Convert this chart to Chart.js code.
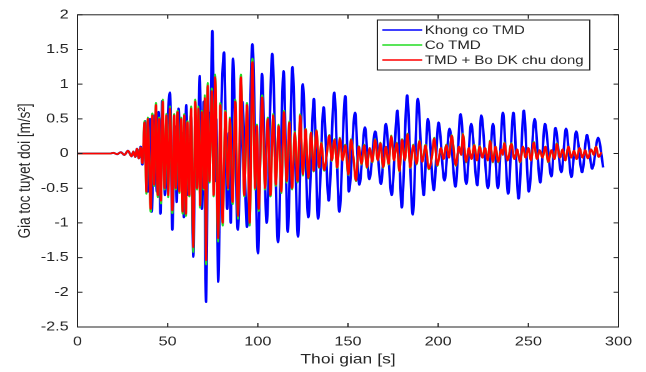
<!DOCTYPE html>
<html>
<head>
<meta charset="utf-8">
<script src="https://cdn.jsdelivr.net/npm/chart.js@4/dist/chart.umd.min.js"></script>
<style>
  html, body { margin: 0; padding: 0; background: #fff; overflow: hidden; }
  canvas { display: block; }
</style>
</head>
<body>
<!-- the source figure is stretched sideways, so the canvas is drawn narrow and widened by CSS -->
<canvas id="chart" width="517" height="372" style="width:646px;height:372px"></canvas>
<script>
const xTicks = [0, 50, 100, 150, 200, 250, 300];
const yTicks = [-2.5, -2, -1.5, -1, -0.5, 0, 0.5, 1, 1.5, 2];
const labels = ['Khong co TMD', 'Co TMD', 'TMD + Bo DK chu dong'];

// Khong co TMD (peaks / troughs)
const blueT = [0,18,20,22,24,26,28,30,31,32,33,34,35,36,
  37.5,39,40.2,41.2,42.5,44,45,46,47,48.5,
  50,51.3,52.6,54,55,56,57.5,58,59,60.3,
  61.5,63,64.2,65.5,66.5,67.8,69,70,71.3,72.5,
  73.2,74.8,76.2,77,78,79.5,81.3,83,84,85,
  86.2,88.9,91.4,94,97,100.1,102.3,104.9,108,111.2,
  114.3,116.6,119.2,122.3,124.9,128,131.1,133.4,136.5,139.3,
  142.4,145.2,148.5,150.5,153.9,156.3,159.4,161.8,165.1,168.3,
  171,174.2,177.4,179.8,182.8,185.9,188.7,192,194.3,197.6,
  200.2,203.5,206.3,209.6,212.4,215.6,218.3,221.7,223.9,227.6,
  230.4,233.1,235.9,238.8,241.7,244.6,247.5,250.3,253.5,256.6,
  259.2,262.8,265,268.3,270.9,273.9,276.5,279.8,282.5,285.4,
  288.7,291.5];
const blueV = [0,0,0.01,-0.01,0.02,-0.02,0.04,-0.04,0.03,-0.05,0.07,-0.07,0.1,-0.16,
  0.47,-0.55,0.5,-0.84,0.55,-0.55,0.6,-0.87,0.76,-0.6,
  0.5,0.88,-1.1,0.4,-0.7,0.65,-0.3,0.3,-0.92,0.7,
  -0.6,0.55,-1.49,0.5,-0.3,1.12,-0.8,0.75,-2.14,0.6,
  -0.2,1.77,-0.4,0.5,-1.85,0.4,1.46,-0.8,0.3,-1.0,
  1.37,-1.1,0.75,-1.06,1.58,-1.44,1.15,-1.0,1.44,-1.28,
  1.19,-1.13,1.25,-1.2,1.0,-0.92,0.79,-0.94,0.67,-0.68,
  0.88,-0.84,0.83,-0.55,0.59,-0.45,0.38,-0.37,0.32,-0.44,
  0.43,-0.6,0.62,-0.78,0.84,-0.88,0.79,-0.6,0.5,-0.53,
  0.45,-0.39,0.36,-0.48,0.57,-0.44,0.43,-0.46,0.55,-0.5,
  0.43,-0.5,0.59,-0.58,0.59,-0.65,0.62,-0.55,0.5,-0.42,
  0.43,-0.33,0.37,-0.27,0.36,-0.34,0.32,-0.27,0.27,-0.22,
  0.23,-0.2];

// Co TMD and TMD + Bo DK chu dong share the same time points
const redT = [0,18,20,22,24,26,28,30,31,32,
  33,34,35,36,37.2,38.2,39,40.6,41.5,42.5,
  43.5,44.5,45.3,46.3,47.3,48.3,49.3,50.3,51.3,52.6,
  53.6,54.5,55.5,56.5,57.5,58.3,59.2,60.1,61,62,
  63,64.2,65.3,66.3,67,68,69,70,70.6,71.3,
  72.2,73.2,74.5,75.5,76.3,78,79.2,80.5,82,83.5,
  84.5,86,87.5,89,90.6,92.5,94,95.5,97,98.5,
  99.5,100.5,102.4,104,105.5,107,108.5,110,111.5,113,
  114.5,116,117.5,119,120.5,122,123.5,125,126.5,128,
  129.5,131,132.5,134,135.2,136.8,138.2,139.6,141,142.5,
  144,145.5,147,148.5,150.2,151.7,153,154.4,156,157.5,
  159,160.5,162,163.5,165,166.5,168,169.5,171,172.5,
  174,175.5,177,178.5,180,181.5,183,184.5,186.2,188,
  189.6,191.2,193,194.8,196.5,197.8,199.5,201.5,203,204.5,
  206,207.5,209.8,211.5,212.8,213.7,215.5,217,218.5,220,
  221.5,223,224.5,226,227.5,228.8,230.3,231.8,233.3,235,
  235.8,236.7,238.5,240.6,242.2,243.8,245.4,247,248.5,250,
  251.5,253,254.8,256.3,257.8,259.5,261,262.8,264.5,265.8,
  267.5,269,270.5,272.2,273.8,275.3,276.8,278.4,280,281.5,
  283,284.8,286.3,287.5,289,290.5];
const redV = [0,0,0.01,-0.01,0.02,-0.02,0.04,-0.04,0.03,-0.05,
  0.07,-0.07,0.09,-0.14,0.45,-0.55,0.5,-0.8,0.55,-0.45,
  0.7,-0.6,0.5,-0.68,0.75,-0.5,0.55,-0.6,0.65,-0.82,
  0.55,-0.5,0.6,-0.55,0.5,-0.84,0.55,-0.87,0.45,-0.6,
  0.65,-1.35,0.75,-0.5,0.65,-0.75,0.6,-0.5,0.8,-1.54,
  0.98,-0.4,0.9,-0.6,1.1,-1.22,0.7,-1.0,0.6,-0.5,
  0.5,-0.7,0.75,-0.9,1.1,-0.6,0.7,-1.0,1.32,-0.5,
  0.4,-0.8,0.81,-0.5,0.5,-0.6,0.55,-0.45,0.4,-0.55,
  0.6,-0.4,0.45,-0.5,0.3,-0.4,0.55,-0.3,0.35,-0.35,
  0.3,-0.25,0.33,-0.2,0.15,-0.24,-0.02,0.26,-0.1,0.2,
  -0.2,0.22,-0.1,0.12,-0.3,0.2,-0.05,-0.39,0.1,-0.15,
  0.12,-0.2,0.08,-0.12,0.2,-0.1,0.15,-0.2,0.1,-0.15,
  0.25,-0.1,0.15,-0.25,0.2,-0.1,0.28,-0.2,0.12,-0.15,
  0.18,-0.12,0.12,-0.22,-0.05,0.22,-0.17,0.08,-0.08,0.12,
  -0.06,0.26,-0.17,0.1,-0.02,0.28,-0.12,0.08,-0.08,0.12,
  -0.1,0.1,-0.06,0.08,-0.1,0.18,-0.12,0.1,-0.12,0.06,
  -0.02,0.15,-0.1,0.14,-0.08,0.06,-0.12,0.1,-0.06,0.08,
  -0.1,0.16,-0.08,0.05,-0.06,0.1,-0.12,0.05,-0.08,0.14,
  -0.06,0.06,-0.1,0.1,-0.06,0.04,-0.08,0.08,-0.06,0.05,
  -0.07,0.06,-0.02,0.1,-0.05,0.02];
const greenV = [0,0,0.01,-0.01,0.02,-0.02,0.04,-0.04,0.03,-0.05,
  0.07,-0.07,0.09,-0.14,0.47,-0.58,0.52,-0.84,0.58,-0.47,
  0.73,-0.63,0.52,-0.72,0.78,-0.52,0.57,-0.63,0.68,-0.86,
  0.57,-0.52,0.62,-0.57,0.52,-0.87,0.57,-0.9,0.47,-0.62,
  0.68,-1.42,0.78,-0.52,0.68,-0.78,0.62,-0.52,0.84,-1.6,
  1.02,-0.42,0.94,-0.62,1.14,-1.27,0.73,-1.04,0.62,-0.52,
  0.52,-0.73,0.78,-0.94,1.14,-0.62,0.73,-1.04,1.37,-0.52,
  0.42,-0.83,0.84,-0.52,0.52,-0.62,0.57,-0.47,0.42,-0.57,
  0.62,-0.42,0.47,-0.52,0.32,-0.42,0.57,-0.32,0.36,-0.36,
  0.31,-0.26,0.34,-0.21,0.16,-0.25,-0.02,0.27,-0.11,0.21,
  -0.21,0.23,-0.1,0.13,-0.31,0.21,-0.05,-0.4,0.11,-0.16,
  0.13,-0.21,0.08,-0.13,0.21,-0.1,0.16,-0.21,0.1,-0.16,
  0.26,-0.1,0.16,-0.26,0.21,-0.1,0.29,-0.21,0.13,-0.16,
  0.19,-0.12,0.13,-0.23,-0.05,0.23,-0.18,0.08,-0.08,0.13,
  -0.06,0.27,-0.18,0.1,-0.02,0.29,-0.13,0.08,-0.08,0.13,
  -0.1,0.11,-0.06,0.08,-0.1,0.19,-0.13,0.1,-0.13,0.06,
  -0.02,0.16,-0.1,0.15,-0.08,0.06,-0.13,0.1,-0.06,0.08,
  -0.1,0.17,-0.08,0.05,-0.06,0.1,-0.13,0.05,-0.08,0.15,
  -0.06,0.06,-0.1,0.1,-0.06,0.04,-0.08,0.08,-0.06,0.05,
  -0.07,0.06,-0.02,0.1,-0.05,0.02];

const FONT = '"Liberation Sans", Arial, sans-serif';
const TEXT = '#262626';

function pts(ts, vs) {
  return ts.map((t, i) => ({ x: t, y: vs[i] }));
}

// matlab style box, inward ticks on all four sides, legend inside the axes
const boxPlugin = {
  id: 'box',
  afterDatasetsDraw(chart) {
    const { ctx, chartArea: a, scales: { x, y } } = chart;
    ctx.save();
    ctx.strokeStyle = '#222';
    ctx.lineWidth = 1;
    ctx.beginPath();
    xTicks.forEach(v => {
      const px = x.getPixelForValue(v);
      ctx.moveTo(px, a.bottom); ctx.lineTo(px, a.bottom - 4);
      ctx.moveTo(px, a.top); ctx.lineTo(px, a.top + 4);
    });
    yTicks.forEach(v => {
      const py = y.getPixelForValue(v);
      ctx.moveTo(a.left, py); ctx.lineTo(a.left + 4, py);
      ctx.moveTo(a.right, py); ctx.lineTo(a.right - 4, py);
    });
    ctx.stroke();
    ctx.strokeRect(a.left, a.top, a.right - a.left, a.bottom - a.top);

    // legend
    const lx = 302, ly = 20, lw = 170, lh = 50;
    ctx.fillStyle = '#fff';
    ctx.fillRect(lx, ly, lw, lh);
    ctx.strokeStyle = '#222';
    ctx.strokeRect(lx, ly, lw, lh);
    ctx.font = '12px ' + FONT;
    ctx.textBaseline = 'middle';
    chart.data.datasets.forEach((ds, i) => {
      const ry = ly + 10 + i * 15;
      ctx.strokeStyle = ds.borderColor;
      ctx.lineWidth = 1.5;
      ctx.beginPath();
      ctx.moveTo(lx + 4, ry); ctx.lineTo(lx + 36, ry);
      ctx.stroke();
      ctx.fillStyle = TEXT;
      ctx.fillText(ds.label, lx + 38, ry + 0.5);
    });
    ctx.restore();
  }
};

const ctx = document.getElementById('chart').getContext('2d');
new Chart(ctx, {
  type: 'line',
  data: {
    datasets: [
      { label: labels[0], data: pts(blueT, blueV), borderColor: '#0000ff', borderWidth: 2, order: 3 },
      { label: labels[1], data: pts(redT, greenV), borderColor: '#22dd22', borderWidth: 1.7, order: 2 },
      { label: labels[2], data: pts(redT, redV), borderColor: '#ff0000', borderWidth: 1.7, order: 1 }
    ]
  },
  options: {
    responsive: false,
    animation: false,
    devicePixelRatio: 2,
    layout: { padding: { left: 0, right: 22, top: 13, bottom: 0 } },
    elements: {
      line: { cubicInterpolationMode: 'monotone', fill: false },
      point: { radius: 0 }
    },
    plugins: {
      legend: { display: false },
      tooltip: { enabled: false }
    },
    scales: {
      x: {
        type: 'linear',
        min: 0,
        max: 300,
        afterFit: s => { s.height = 45; },
        afterBuildTicks: s => { s.ticks = xTicks.map(v => ({ value: v })); },
        grid: { display: false, drawTicks: false },
        border: { display: false },
        ticks: {
          padding: 7,
          color: TEXT,
          font: { family: FONT, size: 13 },
          maxRotation: 0,
          callback: v => String(v)
        },
        title: {
          display: true,
          text: 'Thoi gian [s]',
          color: TEXT,
          font: { family: FONT, size: 14 },
          padding: { top: 0, bottom: 4 }
        }
      },
      y: {
        type: 'linear',
        min: -2.5,
        max: 2,
        afterFit: s => { s.width = 62; },
        afterBuildTicks: s => { s.ticks = yTicks.map(v => ({ value: v })); },
        grid: { display: false, drawTicks: false },
        border: { display: false },
        ticks: {
          padding: 7,
          color: TEXT,
          font: { family: FONT, size: 13 },
          callback: v => String(v)
        },
        title: {
          display: true,
          text: 'Gia toc tuyet doi [m/s²]',
          color: TEXT,
          font: { family: FONT, size: 13.5 },
          padding: { top: 12, bottom: 0 }
        }
      }
    }
  },
  plugins: [boxPlugin]
});
</script>
</body>
</html>
